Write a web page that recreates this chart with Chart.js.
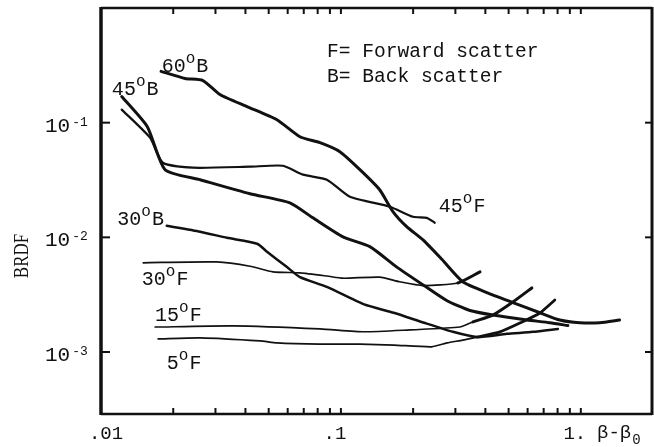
<!DOCTYPE html>
<html><head><meta charset="utf-8">
<script src="https://cdn.jsdelivr.net/npm/chart.js@4.4.0/dist/chart.umd.min.js"></script>
<style>html,body{margin:0;padding:0;background:#fff;}canvas{display:block;}</style>
</head><body>
<canvas id="c" width="654" height="447"></canvas>
<script>
// ---- data (x = beta - beta0, y = BRDF) ----
const b60x = [0.0178, 0.0224, 0.0266, 0.0313, 0.0406, 0.0541, 0.0675, 0.0818, 0.099, 0.120, 0.145, 0.165, 0.188, 0.220, 0.264, 0.322, 0.406, 0.521, 0.675, 0.818, 0.990, 1.20, 1.45];
const b60y = [0.280, 0.243, 0.233, 0.176, 0.138, 0.106, 0.0754, 0.0669, 0.0558, 0.0389, 0.0260, 0.0167, 0.0124, 0.0095, 0.0064, 0.0041, 0.0033, 0.0027, 0.0022, 0.0019, 0.0018, 0.0018, 0.0019];

const b45x = [0.0122, 0.0156, 0.0185, 0.0259, 0.0418, 0.0613, 0.0764, 0.102, 0.132, 0.171, 0.222, 0.277, 0.345, 0.430, 0.596, 0.743, 0.883];
const b45y = [0.169, 0.0923, 0.0389, 0.0318, 0.0240, 0.0200, 0.0148, 0.0101, 0.0083, 0.0055, 0.0038, 0.0028, 0.0023, 0.0021, 0.0019, 0.0018, 0.0017];

const f45x = [0.0122, 0.0160, 0.0181, 0.0242, 0.0418, 0.0573, 0.0695, 0.0874, 0.109, 0.160, 0.200, 0.228, 0.246];
const f45y = [0.130, 0.0740, 0.0447, 0.0405, 0.0413, 0.0421, 0.0352, 0.0318, 0.0226, 0.0185, 0.0151, 0.0148, 0.0134];

const b30x = [0.0188, 0.0259, 0.0335, 0.0447, 0.0492, 0.0596, 0.0675, 0.0874, 0.125, 0.166, 0.222, 0.293, 0.369, 0.492, 0.631, 0.802];
const b30y = [0.0126, 0.0112, 0.0099, 0.0088, 0.0075, 0.0055, 0.0045, 0.0037, 0.0026, 0.0022, 0.0018, 0.0015, 0.00135, 0.00144, 0.0015, 0.00159];

const f30x = [0.0150, 0.0304, 0.0418, 0.0521, 0.0675, 0.0874, 0.102, 0.145, 0.176, 0.220, 0.307, 0.380];
const f30y = [0.0060, 0.0061, 0.0056, 0.0050, 0.0049, 0.0046, 0.0044, 0.0045, 0.0041, 0.0038, 0.0040, 0.0050];

const f15x = [0.0168, 0.0355, 0.0818, 0.125, 0.194, 0.313, 0.355, 0.430, 0.521, 0.625];
const f15y = [0.00165, 0.00169, 0.00159, 0.0015, 0.00156, 0.00165, 0.00183, 0.0021, 0.00273, 0.00362];

const f5x = [0.0173, 0.0259, 0.0460, 0.0541, 0.0818, 0.120, 0.166, 0.239, 0.277, 0.322, 0.369, 0.460, 0.557, 0.675, 0.779];
const f5y = [0.0013, 0.00133, 0.00125, 0.0012, 0.00117, 0.00117, 0.00115, 0.00111, 0.0012, 0.00127, 0.00135, 0.0015, 0.00179, 0.00219, 0.00284];

// tick labels
const xTickValues = [0.01, 0.1, 1];
const xTickLabels = ['.01', '.1', '1.'];
const yTickValues = [0.1, 0.01, 0.001];
const yTickBase = '10';
const yTickExp = ['-1', '-2', '-3'];
const xMinorTicks = [0.02,0.03,0.04,0.05,0.06,0.07,0.08,0.09,0.1,0.2,0.3,0.4,0.5,0.6,0.7,0.8,0.9,1];

// curve labels: [number, degree mark, letter, anchor x, anchor y]
const curveLabels = [
  ['60', 'o', 'B', 0.0179, 0.274],
  ['45', 'o', 'B', 0.0111, 0.176],
  ['30', 'o', 'B', 0.0117, 0.0129],
  ['30', 'o', 'F', 0.0148, 0.00385],
  ['15', 'o', 'F', 0.0168, 0.00187],
  ['5',  'o', 'F', 0.0188, 0.00071],
  ['45', 'o', 'F', 0.256, 0.0167]
];
const legendLines = ['F= Forward scatter', 'B= Back scatter'];
const legendAnchor = [0.0874, 0.377, 0.228];

function pts(xs, ys) { return xs.map((x, i) => ({ x: x, y: ys[i] })); }
function ds(xs, ys, w, boldFrom, wb) {
  return {
    data: pts(xs, ys), showLine: true, pointRadius: 0, borderColor: '#111',
    borderWidth: w, tension: 0.2, borderCapStyle: 'round', borderJoinStyle: 'round',
    segment: { borderWidth: c => (boldFrom != null && c.p0DataIndex >= boldFrom) ? wb : w }
  };
}

const MONO = '"Liberation Mono", "DejaVu Sans Mono", monospace';

const decor = {
  id: 'decor',
  afterDatasetsDraw(chart) {
    const ctx = chart.ctx, a = chart.chartArea;
    const xs = chart.scales.x, ys = chart.scales.y;
    ctx.save();
    ctx.strokeStyle = '#111'; ctx.fillStyle = '#111'; ctx.lineCap = 'butt';
    // frame
    ctx.lineWidth = 3.5; ctx.beginPath(); ctx.moveTo(a.left, a.top - 1); ctx.lineTo(a.left, a.bottom + 1); ctx.stroke();
    ctx.lineWidth = 3; ctx.beginPath(); ctx.moveTo(a.right, a.top - 1); ctx.lineTo(a.right, a.bottom + 1); ctx.stroke();
    ctx.lineWidth = 2.5; ctx.beginPath(); ctx.moveTo(a.left, a.top); ctx.lineTo(a.right, a.top); ctx.stroke();
    ctx.beginPath(); ctx.moveTo(a.left, a.bottom); ctx.lineTo(a.right, a.bottom); ctx.stroke();
    // minor ticks top/bottom
    ctx.lineWidth = 2;
    xMinorTicks.forEach(v => {
      const p = xs.getPixelForValue(v);
      ctx.beginPath(); ctx.moveTo(p, a.top); ctx.lineTo(p, a.top + 6); ctx.stroke();
      ctx.beginPath(); ctx.moveTo(p, a.bottom); ctx.lineTo(p, a.bottom - 6); ctx.stroke();
    });
    // decade ticks left/right
    yTickValues.forEach(v => {
      const p = ys.getPixelForValue(v);
      ctx.beginPath(); ctx.moveTo(a.left, p); ctx.lineTo(a.left + 9, p); ctx.stroke();
      ctx.beginPath(); ctx.moveTo(a.right, p); ctx.lineTo(a.right - 7, p); ctx.stroke();
    });
    // y tick labels
    ctx.textBaseline = 'alphabetic'; ctx.textAlign = 'left';
    yTickValues.forEach((v, i) => {
      const p = ys.getPixelForValue(v);
      ctx.font = '21px ' + MONO;
      ctx.fillText(yTickBase, 45, p + 9);
      const w = ctx.measureText(yTickBase).width;
      ctx.font = '13px ' + MONO;
      ctx.fillText(yTickExp[i], 45 + w + 2, p + 3);
    });
    // x tick labels
    ctx.font = '19px ' + MONO; ctx.textAlign = 'center';
    const xdx = [5, -6, -6];
    xTickValues.forEach((v, i) => {
      ctx.fillText(xTickLabels[i], xs.getPixelForValue(v) + xdx[i], 439);
    });
    // x axis title
    ctx.textAlign = 'left';
    ctx.font = '19px ' + MONO;
    ctx.fillText('\u03B2-\u03B2', 597, 438);
    const bw = ctx.measureText('\u03B2-\u03B2').width;
    ctx.font = '14px ' + MONO;
    ctx.fillText('0', 597 + bw + 1, 444);
    // y axis title
    ctx.save();
    ctx.translate(28, 256); ctx.rotate(-Math.PI / 2);
    ctx.font = '20px "Liberation Serif", "DejaVu Serif", serif';
    ctx.textAlign = 'center';
    ctx.scale(0.85, 1);
    ctx.fillText('BRDF', 0, 0);
    ctx.restore();
    // curve labels
    ctx.textAlign = 'left';
    curveLabels.forEach(l => {
      const px = xs.getPixelForValue(l[3]), py = ys.getPixelForValue(l[4]);
      ctx.font = '20px ' + MONO;
      ctx.fillText(l[0], px, py);
      let x = px + ctx.measureText(l[0]).width;
      ctx.font = '16px ' + MONO;
      ctx.fillText(l[1], x, py - 9);
      x += ctx.measureText(l[1]).width + 1;
      ctx.font = '20px ' + MONO;
      ctx.fillText(l[2], x, py);
    });
    // legend text
    ctx.font = '19.6px ' + MONO;
    const lx = xs.getPixelForValue(legendAnchor[0]);
    ctx.fillText(legendLines[0], lx, ys.getPixelForValue(legendAnchor[1]));
    ctx.fillText(legendLines[1], lx, ys.getPixelForValue(legendAnchor[2]));
    ctx.restore();
  }
};

new Chart(document.getElementById('c'), {
  type: 'scatter',
  data: {
    datasets: [
      ds(b60x, b60y, 3),
      ds(b45x, b45y, 3),
      ds(f45x, f45y, 2.2),
      ds(b30x, b30y, 2.5),
      ds(f30x, f30y, 1.7, 10, 3),
      ds(f15x, f15y, 1.6, 6, 3),
      ds(f5x, f5y, 1.7, 10, 2.8)
    ]
  },
  options: {
    responsive: false, animation: false,
    layout: { padding: { left: 101, right: 2, top: 8, bottom: 33 } },
    scales: {
      x: { type: 'logarithmic', min: 0.01, max: 1.98, display: false },
      y: { type: 'logarithmic', min: 0.000288, max: 1, display: false }
    },
    plugins: { legend: { display: false }, tooltip: { enabled: false } }
  },
  plugins: [decor]
});
</script>
</body></html>
